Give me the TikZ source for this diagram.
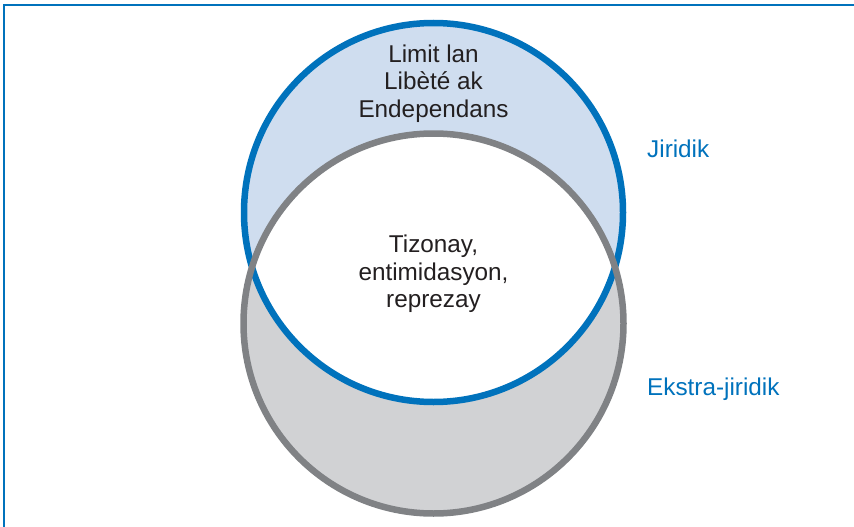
\documentclass[tikz,border=0pt]{standalone}
\usepackage{fontspec}
\setmainfont{Liberation Sans}
\definecolor{jblue}{HTML}{0072BC}
\definecolor{lblue}{HTML}{CFDDEF}
\definecolor{lgray}{HTML}{D1D2D4}
\definecolor{dgray}{HTML}{808285}
\definecolor{txt}{HTML}{231F20}
\begin{document}
\begin{tikzpicture}[x=1pt,y=-1pt,
    t/.style={font=\fontsize{24.3}{27.5}\selectfont,align=center,text=txt},
    lbl/.style={font=\fontsize{24.3}{27}\selectfont,text=jblue,anchor=base west,inner sep=0pt}]
\useasboundingbox (0,0) rectangle (854,527);
\draw[jblue,line width=1.5] (4,527) |- (854,5);
\fill[lblue] (433.5,212.5) circle (189.5);
\fill[lgray] (433.5,323.5) circle (190);
\begin{scope}
  \clip (433.5,212.5) circle (189.5);
  \fill[white] (433.5,323.5) circle (190);
\end{scope}
\draw[jblue,line width=6.5] (433.5,212.5) circle (189.5);
\draw[dgray,line width=6.5] (433.5,323.5) circle (190);
\node[t] (lim) at (433.5,83.5) {Limit lan\\Libèté ak\\Endependans};
\node[t] (tiz) at (433.5,274) {Tizonay,\\entimidasyon,\\reprezay};
\node[lbl] (jir) at (647,157) {Jiridik};
\node[lbl] (eks) at (647,395) {Ekstra-jiridik};
\end{tikzpicture}
\end{document}
